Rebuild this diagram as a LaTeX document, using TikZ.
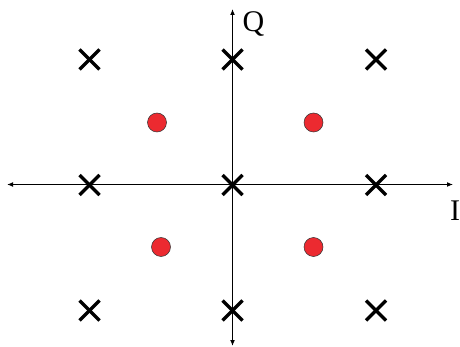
\documentclass[tikz,border=0pt]{standalone}
\usepackage{fontspec}
\setmainfont{Liberation Serif}
\usetikzlibrary{arrows.meta}
\definecolor{dotred}{HTML}{EC2A30}
\tikzset{
  axis/.style={line width=1.4pt, {Latex[length=6pt,width=5pt]}-{Latex[length=6pt,width=5pt]}},
  crossmark/.style={line width=3.5pt, line cap=butt},
  dotmark/.style={circle, fill=dotred, draw=black!80, line width=0.5pt, minimum size=19pt, inner sep=0pt},
  lab/.style={font=\fontsize{30}{32}\selectfont, inner sep=0pt}
}
\begin{document}
\begin{tikzpicture}[x=1pt,y=-1pt]
\useasboundingbox (0,0) rectangle (460,347);
\coordinate (L) at (7,184.5);
\coordinate (R) at (453,184.5);
\coordinate (T) at (232.5,9);
\coordinate (B) at (232.5,346);
\draw[axis] (L) -- (R);
\draw[axis] (T) -- (B);
\foreach \x/\nx in {89.5/a,232.5/b,376/c}{
  \foreach \y/\ny in {59.5/1,185/2,310.5/3}{
    \coordinate (x\nx\ny) at (\x,\y);
    \draw[crossmark] ([shift={(-10,-10)}]x\nx\ny) -- ([shift={(10,10)}]x\nx\ny);
    \draw[crossmark] ([shift={(-10,10)}]x\nx\ny) -- ([shift={(10,-10)}]x\nx\ny);
  }
}
\node[dotmark] (d1) at (157,122.5) {};
\node[dotmark] (d2) at (313.5,122.5) {};
\node[dotmark] (d3) at (161,247) {};
\node[dotmark] (d4) at (313.5,247) {};
\node[lab, anchor=base] (q) at (253.5,32) {Q};
\node[lab, anchor=base] (i) at (455,221) {I};
\end{tikzpicture}
\end{document}
